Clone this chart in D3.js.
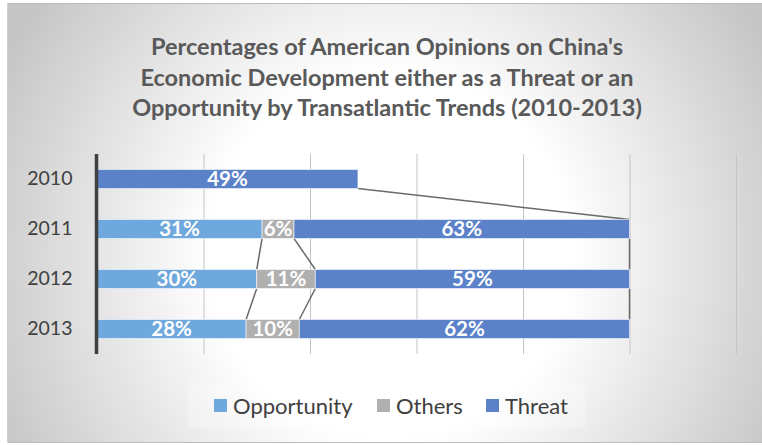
<!DOCTYPE html>
<html>
<head>
<meta charset="utf-8">
<script src="https://cdn.jsdelivr.net/npm/d3@7"></script>
<style>
  html, body { margin: 0; padding: 0; background: #ffffff; }
  svg { display: block; }
  text { font-family: Lato, "Open Sans", "Liberation Sans", sans-serif; }
</style>
</head>
<body>
<svg id="chart" width="762" height="445"></svg>
<script>
// Survey results, percent of respondents per year
const years = ["2010", "2011", "2012", "2013"];
const opportunity = [null, 31, 30, 28];
const others = [null, 6, 11, 10];
const threat = [49, 63, 59, 62];
const seriesNames = ["Opportunity", "Others", "Threat"];
const seriesColors = ["#6fa8dc", "#b0b0b0", "#5b82c9"];
const xTicks = [0, 20, 40, 60, 80, 100, 120];
const titleLines = [
  "Percentages of American Opinions on China's",
  "Economic Development either as a Threat or an",
  "Opportunity by Transatlantic Trends (2010-2013)"
];

const svg = d3.select("#chart");
const W = 762, H = 445;

// Soft radial backdrop for the chart area
const defs = svg.append("defs");
const grad = defs.append("radialGradient")
  .attr("id", "bg")
  .attr("gradientUnits", "userSpaceOnUse")
  .attr("cx", 390).attr("cy", 255).attr("r", 430);
grad.append("stop").attr("offset", "0").attr("stop-color", "#ffffff");
grad.append("stop").attr("offset", "0.42").attr("stop-color", "#ffffff");
grad.append("stop").attr("offset", "1").attr("stop-color", "#c6c6c6");

svg.append("rect")
  .attr("x", 7).attr("y", 3).attr("width", W - 7).attr("height", 440)
  .attr("fill", "url(#bg)");
svg.append("line").attr("x1", 7).attr("x2", W).attr("y1", 3.5).attr("y2", 3.5)
  .attr("stroke", "#bdbdbd").attr("stroke-width", 1);
svg.append("line").attr("x1", 7).attr("x2", W).attr("y1", 442.5).attr("y2", 442.5)
  .attr("stroke", "#bdbdbd").attr("stroke-width", 1);
svg.append("line").attr("x1", 7.5).attr("x2", 7.5).attr("y1", 3).attr("y2", 443)
  .attr("stroke", "#d0d0d0").attr("stroke-width", 1);

// Title
svg.append("text")
  .attr("x", 387).attr("y", 55)
  .attr("text-anchor", "middle")
  .attr("fill", "#595959")
  .attr("font-size", 23.5)
  .attr("font-weight", 700)
  .selectAll("tspan")
  .data(titleLines)
  .join("tspan")
  .attr("x", 387)
  .attr("dy", (d, i) => i === 0 ? 0 : 30.5)
  .text(d => d);

// Scales
const x = d3.scaleLinear().domain([0, 120]).range([97, 736]);
const y = d3.scaleBand().domain(years).range([154, 354])
  .paddingInner(0.62).paddingOuter(0.31);

// Vertical gridlines
svg.append("g")
  .attr("transform", "translate(0,354)")
  .call(d3.axisBottom(x).tickValues(xTicks).tickSize(-200).tickFormat(""))
  .call(g => g.select(".domain").remove())
  .call(g => g.selectAll(".tick line").attr("stroke", "#c4c4c4").attr("stroke-width", 1));

// Stack the three series
const rows = years.map((yr, i) => ({
  year: yr, Opportunity: opportunity[i], Others: others[i], Threat: threat[i]
}));
const stacked = d3.stack().keys(seriesNames).value((d, k) => d[k] || 0)(rows);

// Series lines joining segment ends between consecutive bars
const lineG = svg.append("g");
stacked.forEach(layer => {
  for (let i = 0; i < years.length - 1; i++) {
    const a = layer[i], b = layer[i + 1];
    if (a.data[layer.key] == null || b.data[layer.key] == null) continue;
    lineG.append("line")
      .attr("x1", x(a[1])).attr("y1", y(years[i]) + y.bandwidth())
      .attr("x2", x(b[1])).attr("y2", y(years[i + 1]))
      .attr("stroke", "#6a6a6a").attr("stroke-width", 1.5);
  }
});

// Bars
const barG = svg.append("g");
stacked.forEach((layer, si) => {
  layer.forEach((seg, i) => {
    const v = seg.data[layer.key];
    if (v == null) return;
    barG.append("rect")
      .attr("x", x(seg[0])).attr("y", y(years[i]))
      .attr("width", x(seg[1]) - x(seg[0])).attr("height", y.bandwidth())
      .attr("fill", seriesColors[si])
      .attr("stroke", "rgba(255,255,255,0.55)").attr("stroke-width", 1);
    barG.append("text")
      .attr("x", (x(seg[0]) + x(seg[1])) / 2)
      .attr("y", y(years[i]) + y.bandwidth() / 2)
      .attr("dy", "0.36em")
      .attr("text-anchor", "middle")
      .attr("fill", "#ffffff")
      .attr("font-size", 20.5)
      .attr("font-weight", 700)
      .text(v + "%");
  });
});

// Category axis
const yAxis = svg.append("g")
  .attr("transform", "translate(96.5,0)")
  .call(d3.axisLeft(y).tickSize(0).tickPadding(24));
yAxis.select(".domain").attr("stroke", "#404040").attr("stroke-width", 3.5)
  .attr("d", "M0,154V354");
yAxis.selectAll(".tick text")
  .attr("fill", "#404040").attr("font-size", 19.5)
  .style("font-family", "Lato, 'Open Sans', sans-serif");

// Legend
const legend = svg.append("g");
legend.append("rect")
  .attr("x", 188).attr("y", 383).attr("width", 397).attr("height", 45)
  .attr("fill", "#ffffff").attr("fill-opacity", 0.25);
const legendX = [214, 377, 486];
seriesNames.forEach((name, i) => {
  legend.append("rect")
    .attr("x", legendX[i]).attr("y", 399).attr("width", 13).attr("height", 13)
    .attr("fill", seriesColors[i]);
  legend.append("text")
    .attr("x", legendX[i] + 19).attr("y", 406).attr("dy", "0.36em")
    .attr("fill", "#404040").attr("font-size", 22)
    .text(name);
});
</script>
</body>
</html>
